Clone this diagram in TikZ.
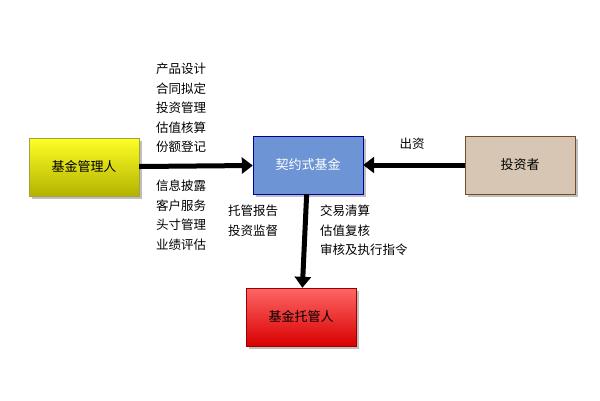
\documentclass[tikz,border=0pt]{standalone}
\usepackage{fontspec}
\setmainfont{Noto Sans CJK SC}
\usepackage{tikz}
\usetikzlibrary{positioning,arrows.meta,shadows}

\tikzset{
  party/.style={draw=#1!60!black, minimum width=110pt, minimum height=58pt, font=\fontsize{13}{15}\selectfont, drop shadow},
  flow/.style={line width=5pt, -{Triangle[length=11pt,width=16pt]}},
  duty/.style={align=left, font=\fontsize{12.5}{19.5}\selectfont, inner sep=0pt}
}

\begin{document}
\begin{tikzpicture}[x=1pt,y=-1pt]
  \useasboundingbox (0,0) rectangle (600,400);

  % parties
  \node[party=yellow, top color=yellow!85!white, bottom color=yellow!70!black] (mgr) at (84,167) {基金管理人};
  \node[party=blue, fill=cyan!45!blue!60!white, text=white] (fund) at (308,165) {契约式基金};
  \node[party=brown, fill=brown!60!gray!45!white] (inv) at (520,165) {投资者};
  \node[party=red, top color=red!60!white, bottom color=red!85!black] (cust) at (301,317) {基金托管人};

  % flows
  \draw[flow] (mgr) -- (fund);
  \draw[flow] (inv) -- (fund);
  \draw[flow] (fund) -- (cust);

  % duties
  \node[duty, anchor=north west] (upper) at (156,63) {产品设计\\合同拟定\\投资管理\\估值核算\\份额登记};
  \node[duty, anchor=north west] (lower) at (156,180) {信息披露\\客户服务\\头寸管理\\业绩评估};
  \node[duty, anchor=north west] (report) at (228,205) {托管报告\\投资监督};
  \node[duty, anchor=north west] (check) at (320,205) {交易清算\\估值复核\\审核及执行指令};
  \node[duty, anchor=south] (pay) at (412,150) {出资};
\end{tikzpicture}
\end{document}
